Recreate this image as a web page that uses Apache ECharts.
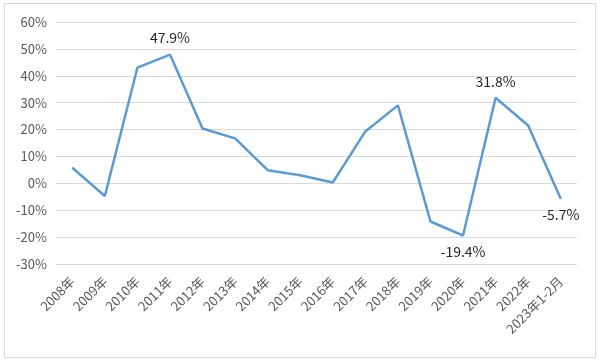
<!DOCTYPE html>
<html><head><meta charset="utf-8">
<script src="https://cdn.jsdelivr.net/npm/echarts@6/dist/echarts.min.js"></script>
<style>html,body{margin:0;padding:0;background:#fff}#c{width:600px;height:361px}
#b{position:absolute;left:4px;top:3px;width:592px;height:355px;border:1px solid #d9d9d9;box-sizing:border-box;pointer-events:none}</style>
</head><body><div id="c"></div><div id="b"></div>
<script>
const categories = ['2008年','2009年','2010年','2011年','2012年','2013年','2014年','2015年','2016年','2017年','2018年','2019年','2020年','2021年','2022年','2023年1-2月'];
const values = [5.8, -4.7, 43.0, 47.9, 20.4, 16.7, 4.9, 3.0, 0.3, 19.3, 29.0, -14.2, -19.4, 31.8, 21.5, -5.7];
const labelAbove = ['2011年', '2021年'];
const labelBelow = ['2020年', '2023年1-2月'];
const yTicks = {min: -30, max: 60, interval: 10};

const font = '"Noto Sans CJK SC", "Noto Sans", sans-serif';
const labelStyle = {color: '#262626', fontSize: 14, fontFamily: font, formatter: p => p.value.toFixed(1) + '%'};
const data = values.map((v, i) => {
  const c = categories[i];
  const d = {value: v};
  if (labelAbove.includes(c)) d.label = Object.assign({show: true, position: 'top', distance: 9}, labelStyle);
  else if (labelBelow.includes(c)) d.label = Object.assign({show: true, position: 'bottom', distance: 9}, labelStyle);
  return d;
});
const chart = echarts.init(document.getElementById('c'));
chart.setOption({
  animation: false,
  grid: {left: 56, right: 23, top: 22, bottom: 97, containLabel: false},
  xAxis: {
    type: 'category', data: categories, boundaryGap: true,
    axisLine: {show: false}, axisTick: {show: false},
    axisLabel: {rotate: 45, color: '#595959', fontSize: 13, fontFamily: font, margin: 15, interval: 0}
  },
  yAxis: {
    type: 'value', min: yTicks.min, max: yTicks.max, interval: yTicks.interval,
    axisLine: {show: false}, axisTick: {show: false},
    splitLine: {lineStyle: {color: '#d9d9d9', width: 1}},
    axisLabel: {formatter: v => v + '%', color: '#595959', fontSize: 13, fontFamily: font, margin: 9}
  },
  series: [{
    type: 'line', data: data, symbol: 'circle', symbolSize: 1, showSymbol: true,
    lineStyle: {color: '#5b9bd5', width: 2.5},
    itemStyle: {color: '#5b9bd5'},
    label: Object.assign({show: false}, labelStyle),
    labelLayout: {hideOverlap: false}
  }]
});
</script></body></html>
